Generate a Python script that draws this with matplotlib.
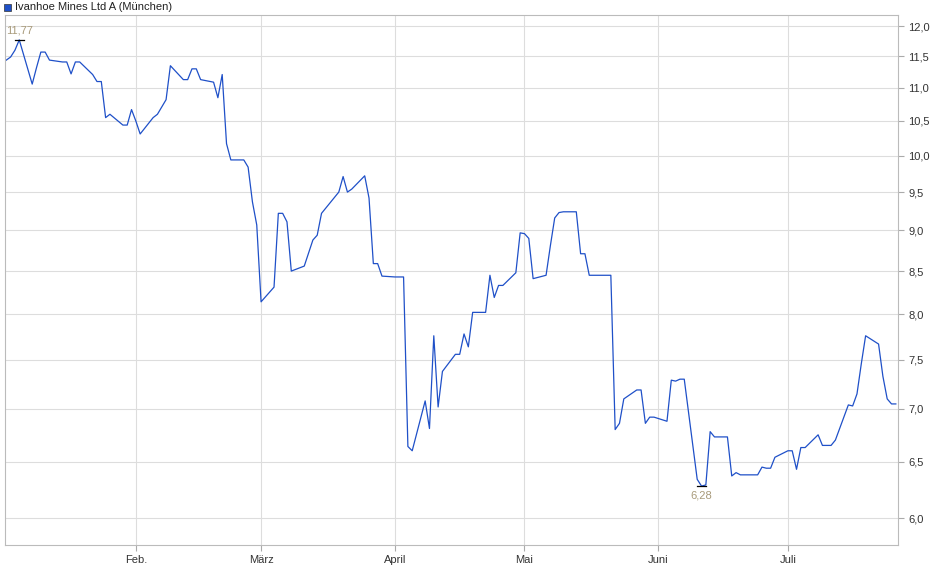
import matplotlib
matplotlib.use("Agg")
import matplotlib.pyplot as plt
from matplotlib.ticker import FixedLocator, NullLocator
import pandas as pd
import numpy as np

title = "Ivanhoe Mines Ltd A (München)"
prices = [11.44,11.49,11.60,11.77,11.06,11.32,11.57,11.57,11.44,11.41,11.41,11.22,11.41,11.41,11.21,11.10,11.10,10.55,10.60,10.44,10.44,10.67,10.50,10.31,10.55,10.60,10.71,10.82,11.35,11.13,11.13,11.30,11.30,11.13,11.09,10.85,11.21,10.17,
          9.94,9.94,9.84,9.37,9.07,8.14,8.31,9.22,9.22,9.11,8.50,8.56,8.72,8.88,8.94,9.22,9.43,9.50,9.71,9.50,9.54,9.72,9.42,8.59,8.59,8.44,8.43,8.43,8.43,
          6.64,6.60,7.08,6.81,7.76,7.02,7.38,7.56,7.56,7.78,7.64,8.02,8.02,8.45,8.19,8.33,8.33,8.48,8.97,8.96,8.90,8.41,8.45,8.81,9.16,9.23,9.24,9.24,8.71,8.71,8.45,8.45,8.45,8.45,
          6.80,6.86,7.10,7.19,7.19,6.86,6.92,6.92,6.88,7.29,7.28,7.30,7.30,6.34,6.28,6.29,6.78,6.73,6.73,6.37,6.40,6.38,6.38,6.38,6.45,6.44,6.44,6.54,6.60,6.60,6.43,6.63,6.63,6.75,6.65,6.65,6.65,6.70,7.04,7.03,7.15,7.46,7.76,7.67,7.33,7.10,7.05,7.05]
dates = pd.bdate_range("2024-01-02", periods=len(prices))
yticks = [6.0,6.5,7.0,7.5,8.0,8.5,9.0,9.5,10.0,10.5,11.0,11.5,12.0]
month_ticks = ["2024-02-01","2024-03-01","2024-04-01","2024-05-01","2024-06-01","2024-07-01"]
month_labels = ["Feb.","März","April","Mai","Juni","Juli"]

plt.rcParams['font.family'] = ['Liberation Sans', 'DejaVu Sans']
fig = plt.figure(figsize=(9.4,5.79), dpi=100)
ax = fig.add_axes([5/940, 1-545/579, 893/940, 530/579])
ax.plot(dates, prices, color="#1f50c8", lw=0.9)
ax.set_yscale("log")
ax.set_ylim(5.78, 12.19)
ax.yaxis.set_major_locator(FixedLocator(yticks))
ax.yaxis.set_minor_locator(NullLocator())
ax.set_yticklabels([f"{v:.1f}".replace(".", ",") for v in yticks])
ax.yaxis.tick_right()
ax.set_xlim(dates[0]-pd.Timedelta(days=0.3), dates[-1]+pd.Timedelta(days=0.5))
mt = pd.to_datetime(month_ticks)
ax.set_xticks(mt)
ax.set_xticklabels(month_labels)
ax.tick_params(labelsize=8, colors="#333333", length=4, color="#aaaaaa")
ax.grid(True, color="#dddddd", lw=0.8)
for s in ax.spines.values():
    s.set_color("#bbbbbb")

imax = int(np.argmax(prices)); imin = int(np.argmin(prices))
ax.plot([dates[imax]-pd.Timedelta(days=1), dates[imax]+pd.Timedelta(days=1)], [prices[imax]]*2, color="black", lw=0.9)
ax.plot([dates[imin]-pd.Timedelta(days=1), dates[imin]+pd.Timedelta(days=1)], [prices[imin]]*2, color="black", lw=0.9)
ax.annotate(f"{prices[imax]:.2f}".replace(".", ","), (dates[imax], prices[imax]), xytext=(0,3), textcoords="offset points", ha="center", va="bottom", fontsize=8, color="#a89a7a")
ax.annotate(f"{prices[imin]:.2f}".replace(".", ","), (dates[imin], prices[imin]), xytext=(0,-3), textcoords="offset points", ha="center", va="top", fontsize=8, color="#a89a7a")

fig.patches.append(plt.Rectangle((4/940, 1-11/579), 7/940, 7/579, transform=fig.transFigure, facecolor="#1f50c8", edgecolor="#333333", lw=0.5))
fig.text(15/940, 1-7.5/579, title, fontsize=8, va="center", color="#222222")
fig.savefig("out.png", dpi=100)
